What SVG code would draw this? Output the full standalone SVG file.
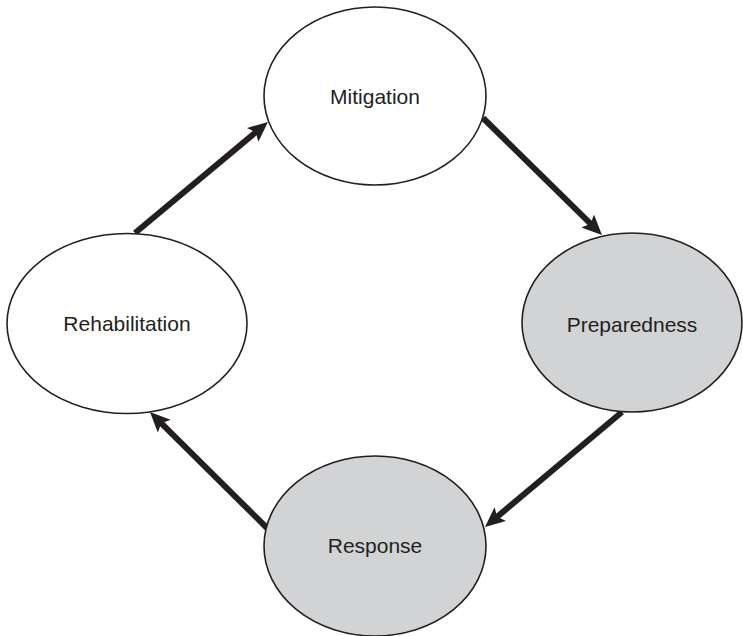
<svg xmlns="http://www.w3.org/2000/svg" width="743" height="636" viewBox="0 0 743 636">
  <style>
    .node ellipse { stroke: #231f20; stroke-width: 1.6; }
    .white { fill: #ffffff; }
    .gray { fill: #d1d3d4; }
    .label { font-family: "Liberation Sans", Arial, sans-serif; font-size: 21px; fill: #231f20; text-anchor: middle; }
    .conn line { stroke: #231f20; stroke-width: 6; fill: none; marker-end: url(#arrow); }
  </style>
  <defs>
    <marker id="arrow" viewBox="0 0 20 18" markerWidth="20" markerHeight="18" markerUnits="userSpaceOnUse" refX="6" refY="9" orient="auto">
      <path d="M0,0 L20,9 L0,18 L4,9 Z" fill="#231f20"/>
    </marker>
  </defs>
  <rect width="743" height="636" fill="#ffffff"/>
  <g id="connectors" class="conn">
    <line x1="135" y1="233" x2="257.2" y2="131.0"/>
    <line x1="483" y1="118" x2="592.0" y2="225.2"/>
    <line x1="622" y1="412" x2="495.7" y2="518.0"/>
    <line x1="267" y1="528" x2="159.9" y2="421.9"/>
  </g>
  <g id="mitigation" class="node">
    <ellipse class="white" cx="375" cy="96" rx="111" ry="89"/>
    <text class="label" x="375" y="104">Mitigation</text>
  </g>
  <g id="preparedness" class="node">
    <ellipse class="gray" cx="632" cy="322.5" rx="110" ry="89.5"/>
    <text class="label" x="632" y="332">Preparedness</text>
  </g>
  <g id="response" class="node">
    <ellipse class="gray" cx="375" cy="546" rx="111" ry="90"/>
    <text class="label" x="375" y="553">Response</text>
  </g>
  <g id="rehabilitation" class="node">
    <ellipse class="white" cx="127" cy="323.5" rx="120" ry="90"/>
    <text class="label" x="127" y="331">Rehabilitation</text>
  </g>
</svg>
